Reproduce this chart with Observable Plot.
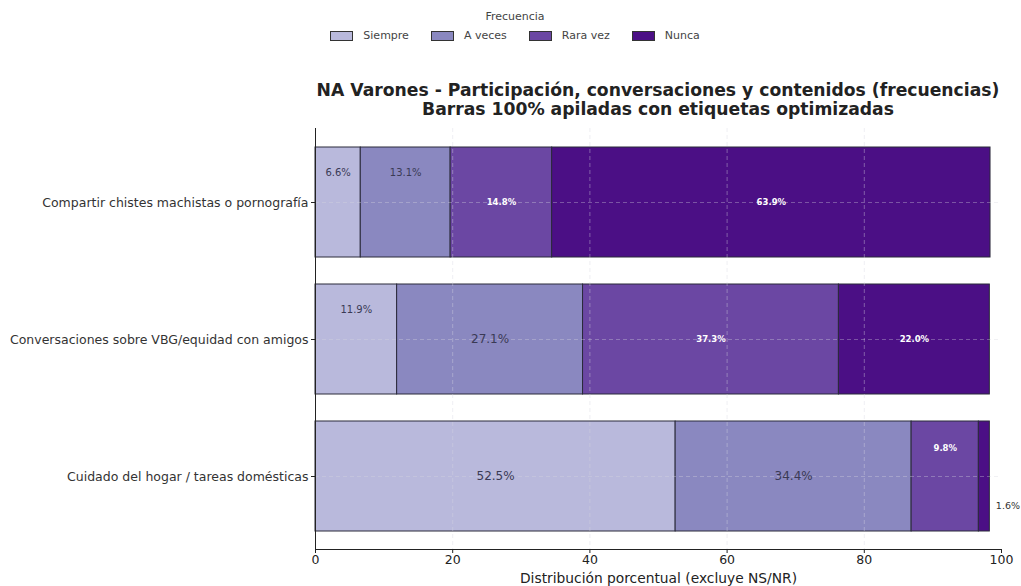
<!DOCTYPE html>
<html>
<head>
<meta charset="utf-8">
<script src="https://cdn.jsdelivr.net/npm/d3@7"></script>
<script src="https://cdn.jsdelivr.net/npm/@observablehq/plot@0.6"></script>
<style>
  html, body { margin: 0; padding: 0; background: #fff; }
  body { width: 1021px; height: 586px; position: relative; overflow: hidden; font-family: "DejaVu Sans", sans-serif; color: #222; }
  #legend { position: absolute; top: 10px; left: 0; width: 1030px; text-align: center; font-size: 11px; color: #444; }
  #legend .ttl { margin-bottom: 6px; }
  #legend .items { display: flex; justify-content: center; gap: 0; }
  #legend .item { display: flex; align-items: center; margin: 0 11px; }
  #legend .sw { width: 21px; height: 8px; border: 1px solid #333; margin-right: 10px; }
  #title { position: absolute; top: 81px; left: 300px; width: 716px; text-align: center; font-weight: bold; font-size: 17.2px; line-height: 19px; color: #222; }
  #chart { position: absolute; top: 120px; left: 0; }
</style>
</head>
<body>
<div id="legend"></div>
<div id="title">NA Varones - Participación, conversaciones y contenidos (frecuencias)<br>Barras 100% apiladas con etiquetas optimizadas</div>
<div id="chart"></div>
<script>
const categorias = [
  "Compartir chistes machistas o pornografía",
  "Conversaciones sobre VBG/equidad con amigos",
  "Cuidado del hogar / tareas domésticas"
];
const frecuencias = ["Siempre", "A veces", "Rara vez", "Nunca"];
const siempre = [6.6, 11.9, 52.5];
const aVeces = [13.1, 27.1, 34.4];
const raraVez = [14.8, 37.3, 9.8];
const nunca = [63.9, 22.0, 1.6];
const colores = ["#b9b9dc", "#8a88c0", "#6b47a3", "#4b0f85"];
const xTicks = [0, 20, 40, 60, 80, 100];
const series = [siempre, aVeces, raraVez, nunca];

// build table
const rows = [];
categorias.forEach((c, i) => {
  let acc = 0;
  frecuencias.forEach((f, j) => {
    const v = series[j][i];
    rows.push({item: c, freq: f, value: v, start: acc, end: acc + v, mid: acc + v / 2, dark: j >= 2});
    acc += v;
  });
});

// legend
const leg = document.getElementById("legend");
leg.innerHTML = '<div class="ttl">Frecuencia</div><div class="items">' +
  frecuencias.map((f, j) => `<div class="item"><div class="sw" style="background:${colores[j]}"></div><span>${f}</span></div>`).join("") +
  '</div>';

const W = 1021, H = 466, ML = 315, MR = 20, MT = 8, MB = 37;

const lightBig = rows.filter(d => !d.dark && d.value >= 20);
const lightSmall = rows.filter(d => !d.dark && d.value < 20);
const whiteMain = rows.filter(d => d.dark && d.value >= 12);
const whiteSmall = rows.filter(d => d.dark && d.value >= 3 && d.value < 12);
const outside = rows.filter(d => d.dark && d.value < 3);

const fmt = d => d.value.toFixed(1) + "%";

const plot = Plot.plot({
  width: W,
  height: H,
  marginLeft: ML,
  marginRight: MR,
  marginTop: MT,
  marginBottom: MB,
  style: {fontFamily: "DejaVu Sans, sans-serif", background: "transparent", color: "#222", overflow: "visible"},
  x: {domain: [0, 100], ticks: xTicks},
  y: {domain: categorias, range: [13.3, 424.3], paddingInner: 0.2, paddingOuter: 0.1},
  color: {domain: frecuencias, range: colores},
  marks: [
    Plot.barX(rows, {x1: "start", x2: "end", y: "item", fill: "freq", stroke: "#2a2a3a", strokeWidth: 1}),
    Plot.ruleX([20, 40, 60, 80], {stroke: "#d8d8e0", strokeOpacity: 0.4, strokeDasharray: "4,3"}),
    Plot.ruleY(categorias, {y: d => d, stroke: "#d8d8e0", strokeOpacity: 0.35, strokeDasharray: "4,3"}),
    Plot.ruleX([0], {stroke: "#222", strokeWidth: 1}),
    Plot.text(lightBig, {x: "mid", y: "item", text: fmt, fill: "#3a3a55", fontSize: 12}),
    Plot.text(lightSmall, {x: "mid", y: "item", text: fmt, fill: "#3a3a55", fontSize: 10, dy: -30}),
    Plot.text(whiteMain, {x: "mid", y: "item", text: fmt, fill: "#fff", fontSize: 8.5, fontWeight: "bold"}),
    Plot.text(whiteSmall, {x: "mid", y: "item", text: fmt, fill: "#fff", fontSize: 8.5, fontWeight: "bold", dy: -28}),
    Plot.text(outside, {x: "end", y: "item", text: fmt, fill: "#333", fontSize: 9.5, textAnchor: "start", dx: 6, dy: 29}),
    Plot.axisY({tickSize: 4, tickPadding: 3, fontSize: 12.5, label: null, stroke: "#222", color: "#333"}),
    Plot.axisX({ticks: xTicks, tickSize: 4, tickPadding: 2, fontSize: 12.5, label: null, color: "#222"}),
    Plot.axisX({ticks: [], tickSize: 0, fontSize: 13.8, label: "Distribución porcentual (excluye NS/NR)", labelAnchor: "center", labelArrow: "none", labelOffset: 33, color: "#222"})
  ]
});

document.getElementById("chart").appendChild(plot);

// bottom spine
d3.select(plot).append("line")
  .attr("x1", ML).attr("x2", W - MR)
  .attr("y1", H - MB + 0.5).attr("y2", H - MB + 0.5)
  .attr("stroke", "#222").attr("stroke-width", 1);
</script>
</body>
</html>
